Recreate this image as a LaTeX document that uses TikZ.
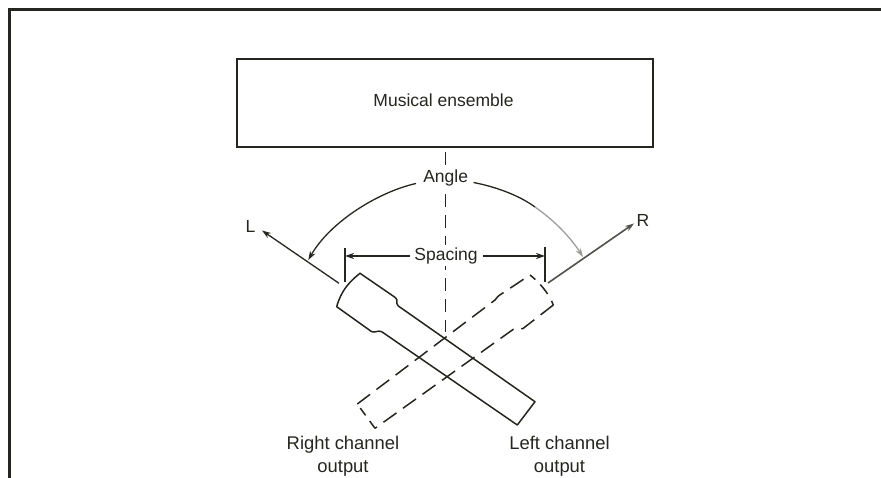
\documentclass[tikz,border=0pt]{standalone}
\usepackage{fontspec}
\setmainfont{Liberation Sans}
\usetikzlibrary{arrows.meta}
\definecolor{ink}{HTML}{24261F}
\tikzset{
  frameline/.style={ink,line width=3pt},
  body/.style={ink,line width=1.5pt,line join=round},
  dashbody/.style={ink,line width=1.5pt,dash pattern=on 16pt off 8pt,line join=round},
  center line/.style={ink,line width=1.4pt,dash pattern=on 13pt off 8pt},
  lead/.style={ink,line width=1.3pt},
  tip/.style={-{Stealth[length=9pt,width=6pt]}},
  label/.style={font=\fontsize{17.5}{23}\selectfont,text=ink,fill=white,inner sep=2.5pt},
  plain label/.style={font=\fontsize{17.5}{23}\selectfont,text=ink,inner sep=0pt},
  out label/.style={font=\fontsize{18.4}{23}\selectfont,text=ink,inner sep=0pt,align=center},
}
\begin{document}
\begin{tikzpicture}[x=1pt,y=-1pt]
\useasboundingbox (0,0) rectangle (881,478);
\draw[frameline] (881,10) -- (9,10) -- (9,478);

\node[draw=ink,line width=1.6pt,minimum width=416pt,minimum height=87.5pt,inner sep=0pt] (ensemble) at (444.7,103) {};
\node[plain label] (ensembletext) at (443.5,100.5) {Musical ensemble};

% centre line
\coordinate (ctop) at (445.7,152);
\coordinate (cbot) at (445.7,332);
\draw[center line] (ctop) -- (cbot);

% dashed (right channel) microphone
\coordinate (r1) at (530,275);
\coordinate (r2) at (553.3,305);
\coordinate (r3) at (523.3,328.3);
\coordinate (r4) at (513.3,329.3);
\coordinate (r5) at (375,428.3);
\coordinate (r6) at (357.3,404);
\coordinate (r7) at (495,300);
\coordinate (r8) at (503.3,292.7);
\draw[dashbody,dash pattern=on 7pt off 7pt on 12pt off 8pt] (r1) .. controls (538,281) and (549,293) .. (r2);
\draw[dashbody] (r2) -- (r3) .. controls (519,331) and (517,327) .. (r4) -- (r5);
\draw[dashbody,dash pattern=on 9pt off 7pt on 9pt off 9pt] (r5) -- (r6);
\draw[dashbody] (r6) -- (r7) .. controls (497,297) and (498,296) .. (r8) -- (r1);

% solid (left channel) microphone
\coordinate (l1) at (360,273.3);
\coordinate (l2) at (395,297.3);
\coordinate (l3) at (398.3,306);
\coordinate (l4) at (535,401.7);
\coordinate (l5) at (517.3,425);
\coordinate (l6) at (381.7,331.7);
\coordinate (l7) at (371.7,331.7);
\coordinate (l8) at (336.7,306.7);
\draw[body] (l1) -- (l2) .. controls (399,300) and (395,303) .. (l3) -- (l4) -- (l5) -- (l6)
  .. controls (378,330) and (375,333) .. (l7) -- (l8)
  .. controls (341,291) and (349,282) .. (l1) -- cycle;

% L and R axes
\coordinate (lstart) at (339,283.3);
\coordinate (ltip) at (262,230.5);
\coordinate (rstart) at (548,283);
\coordinate (rtip) at (634,223.5);
\draw[lead,tip] (lstart) -- (ltip);
\draw[lead,tip,ink!80,line width=1.6pt] (rstart) -- (rtip);
\node[plain label] (L) at (250.5,226) {L};
\node[plain label] (R) at (643,220) {R};

% angle
\node[label] (angle) at (445.7,178) {Angle};
\coordinate (a1) at (416,183.5);
\coordinate (a2) at (308.3,260);
\coordinate (a3) at (473.5,182.5);
\coordinate (a4) at (535,207);
\coordinate (a5) at (583,257);
\draw[lead,tip] (a1) .. controls (378,192) and (330,222) .. (a2);
\draw[lead] (a3) .. controls (497,187) and (520,196) .. (a4);
\draw[lead,tip,ink!45] (a4) .. controls (555,221) and (571,238) .. (a5);

% spacing
\coordinate (s1t) at (345,248);
\coordinate (s1b) at (345,282);
\coordinate (s2t) at (545,247);
\coordinate (s2b) at (545,282);
\coordinate (s1) at (345,256);
\coordinate (s2) at (545,256);
\coordinate (s1i) at (410,256);
\coordinate (s2i) at (483,256);
\draw[lead] (s1t) -- (s1b);
\draw[lead] (s2t) -- (s2b);
\draw[lead,tip] (s1i) -- (s1);
\draw[lead,tip] (s2i) -- (s2);
\node[label] (spacing) at (446,255.5) {Spacing};

% outputs
\node[out label] (rout) at (343,456.5) {Right channel\\output};
\node[out label] (lout) at (559.5,456.5) {Left channel\\output};
\end{tikzpicture}
\end{document}
